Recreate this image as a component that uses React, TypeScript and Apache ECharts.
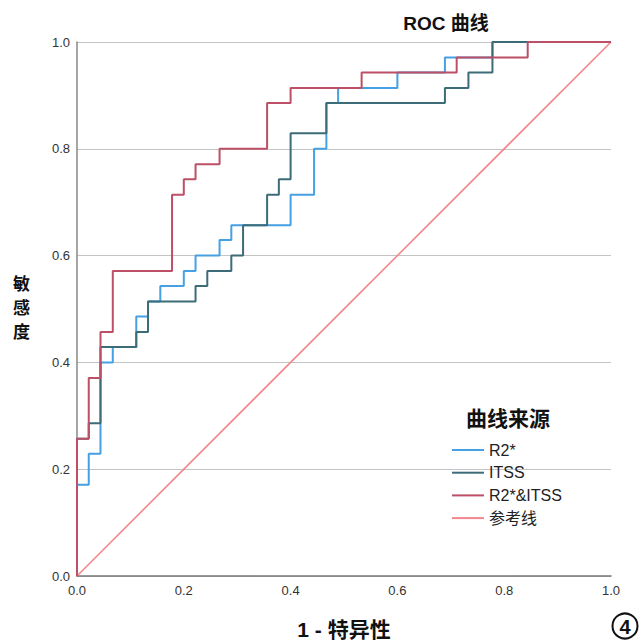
import React, { useEffect, useRef } from "react";
import * as echarts from "echarts";

const FONT = "'Liberation Sans', Arial, 'Noto Sans CJK SC', sans-serif";
const CJK = "'Liberation Sans', 'Noto Sans CJK SC', sans-serif";

const seriesNames = ["R2*", "ITSS", "R2*&ITSS", "参考线"];
const seriesColors = ["#45a0e4", "#3b6c78", "#bd4f66", "#f4868e"];
const yAxisNameChars = ["敏", "感", "度"];

// ROC vertices [1 - specificity, sensitivity]
const rocR2: number[][] = [
  [0, 0], [0, 0.171], [0.022, 0.229], [0.044, 0.4], [0.067, 0.429], [0.111, 0.486],
  [0.133, 0.514], [0.156, 0.543], [0.2, 0.571], [0.222, 0.6], [0.267, 0.629],
  [0.289, 0.657], [0.4, 0.714], [0.444, 0.8], [0.467, 0.886], [0.489, 0.914],
  [0.6, 0.943], [0.689, 0.971], [0.778, 1.0], [1, 1],
];
const rocITSS: number[][] = [
  [0, 0], [0, 0.257], [0.022, 0.286], [0.044, 0.429], [0.111, 0.457], [0.133, 0.514],
  [0.222, 0.543], [0.244, 0.571], [0.289, 0.6], [0.311, 0.657], [0.356, 0.714],
  [0.378, 0.743], [0.4, 0.829], [0.467, 0.886], [0.689, 0.914], [0.733, 0.943],
  [0.778, 1.0], [1, 1],
];
const rocCombined: number[][] = [
  [0, 0], [0, 0.257], [0.022, 0.371], [0.044, 0.457], [0.067, 0.571], [0.178, 0.714],
  [0.2, 0.743], [0.222, 0.771], [0.267, 0.8], [0.356, 0.886], [0.4, 0.914],
  [0.533, 0.943], [0.711, 0.971], [0.844, 1.0], [1, 1],
];
const referenceLine: number[][] = [[0, 0], [1, 1]];

const axisMin = 0;
const axisMax = 1;
const axisInterval = 0.2;

export default function App() {
  const ref = useRef<HTMLDivElement>(null);
  useEffect(() => {
    if (!ref.current) return;
    const chart = echarts.init(ref.current, undefined, { renderer: "svg" });
    const datas = [rocR2, rocITSS, rocCombined, referenceLine];
    const order = [3, 0, 1, 2];
    const series: any[] = order.map((i) => ({
      name: seriesNames[i],
      type: "line",
      data: datas[i],
      step: i === 3 ? false : "end",
      symbol: "none",
      z: i === 3 ? 1 : 2 + i,
      lineStyle: { color: seriesColors[i], width: i === 3 ? 1.6 : 2 },
      itemStyle: { color: seriesColors[i] },
      emphasis: { disabled: true },
    }));
    const yNameY = [282, 306, 330];
    const yNameGraphics = yAxisNameChars.map((c, k) => ({
      type: "text",
      x: 21.5,
      y: yNameY[k],
      style: {
        text: c,
        font: "bold 17px 'Noto Sans CJK SC', sans-serif",
        lineHeight: 17,
        fill: "#111",
        align: "center",
        verticalAlign: "middle",
      },
    }));
    chart.setOption({
      animation: false,
      backgroundColor: "#ffffff",
      textStyle: { fontFamily: FONT },
      title: {
        text: "ROC 曲线",
        left: 441,
        top: 9,
        textAlign: "center",
        textStyle: { fontFamily: CJK, fontSize: 19, fontWeight: "bold", color: "#111" },
      },
      grid: { left: 77, right: 32, top: 42, bottom: 68, containLabel: false },
      xAxis: {
        type: "value",
        min: axisMin,
        max: axisMax,
        interval: axisInterval,
        axisLine: { show: true, onZero: false, lineStyle: { color: "#777", width: 1.5 } },
        axisTick: { show: false },
        splitLine: { show: false },
        axisLabel: {
          color: "#333",
          fontSize: 13,
          fontFamily: FONT,
          margin: 8,
          formatter: (v: number) => v.toFixed(1),
        },
      },
      yAxis: {
        type: "value",
        min: axisMin,
        max: axisMax,
        interval: axisInterval,
        axisLine: { show: true, onZero: false, lineStyle: { color: "#888", width: 1.5 } },
        axisTick: { show: false },
        splitLine: { show: true, lineStyle: { color: "#c4c4c4", width: 1 } },
        axisLabel: {
          color: "#333",
          fontSize: 13,
          fontFamily: FONT,
          margin: 7,
          formatter: (v: number) => v.toFixed(1),
        },
      },
      legend: {
        data: seriesNames,
        orient: "vertical",
        left: 447,
        top: 436,
        padding: 5,
        itemWidth: 32,
        itemHeight: 2,
        itemGap: 4.7,
        icon: "rect",
        selectedMode: false,
        textStyle: { fontFamily: CJK, fontSize: 16, color: "#222", lineHeight: 18 },
      },
      graphic: [
        {
          type: "text",
          left: 466,
          top: 406,
          style: { text: "曲线来源", font: "bold 21px 'Noto Sans CJK SC', sans-serif", fill: "#111" },
        },
        ...yNameGraphics,
        {
          type: "text",
          x: 344,
          y: 629,
          style: {
            text: "1 - 特异性",
            font: "bold 21px 'Liberation Sans', 'Noto Sans CJK SC', sans-serif",
            fill: "#111",
            align: "center",
            verticalAlign: "middle",
          },
        },
        {
          type: "circle",
          shape: { cx: 625, cy: 626, r: 12.5 },
          style: { fill: "none", stroke: "#111", lineWidth: 2 },
        },
        {
          type: "text",
          x: 625,
          y: 627,
          style: {
            text: "4",
            font: "bold 20px 'Liberation Sans', Arial, sans-serif",
            fill: "#111",
            align: "center",
            verticalAlign: "middle",
          },
        },
      ],
      series,
    });
    return () => chart.dispose();
  }, []);
  return (
    <div
      ref={ref}
      style={{ position: "fixed", left: 0, top: 0, width: 643, height: 644, background: "#fff" }}
    />
  );
}
